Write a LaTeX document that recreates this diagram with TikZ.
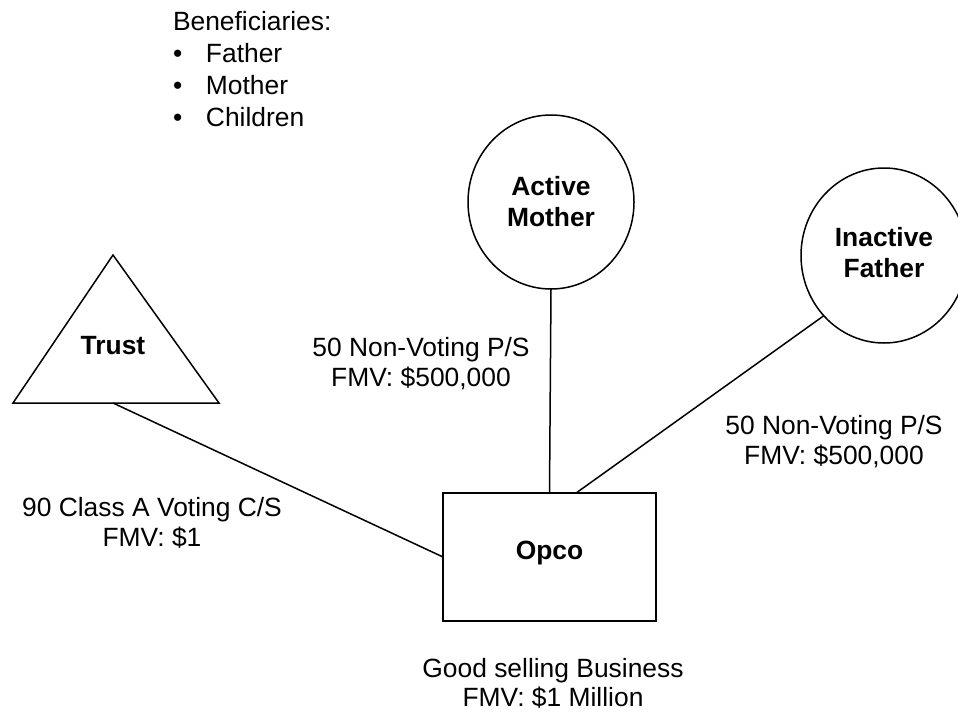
\documentclass[tikz,border=0pt]{standalone}
\usepackage{fontspec}
\setmainfont{Liberation Sans}
\usetikzlibrary{shapes.geometric,calc}
\begin{document}
\begin{tikzpicture}[x=1pt,y=-1pt,
  every node/.style={inner sep=0pt, outer sep=0pt},
  plain/.style={font=\fontsize{26.4}{29.5}\selectfont, align=center},
  entity/.style={draw, line width=1.5pt, font=\fontsize{26.4}{31}\selectfont\bfseries, align=center},
  link/.style={line width=1.5pt}]
\clip (0,0) rectangle (958,712);
\fill[white] (0,0) rectangle (958,712);

% Trust: triangle outline with its caption inside
\coordinate (trusttop) at (113,255);
\coordinate (trustleft) at (13,403);
\coordinate (trustright) at (219,403);
\coordinate (trustbase) at (113,403);
\draw[link, line join=miter] (trusttop) -- (trustright) -- (trustleft) -- cycle;
\node[font=\fontsize{26.4}{31}\selectfont\bfseries] (trust) at (113,346) {Trust};

% Shareholders and the company
\node[entity, ellipse, minimum width=166pt, minimum height=174pt] (mother) at (551,202) {Active\\Mother};
\node[entity, ellipse, minimum width=166pt, minimum height=175pt, text depth=6pt] (father) at (884,255.5) {Inactive\\Father};
\node[entity, rectangle, minimum width=213pt, minimum height=128pt, text height=19pt, text depth=14pt] (opco) at (549.5,557) {Opco};

% Ownership links
\draw[link] (trustbase) -- (opco.west);
\draw[link] (mother.south) -- (opco.north);
\draw[link] (father.225.7) -- ($(opco.north west)!0.625!(opco.north east)$);

% Share descriptions
\node[plain] (motherShares) at (421,363.5) {50 Non-Voting P/S\\FMV: \$500,000};
\node[plain] (fatherShares) at (834,441.5) {50 Non-Voting P/S\\FMV: \$500,000};
\node[plain] (trustShares) at (152,522.8) {90 Class A Voting C/S\\FMV: \$1};
\node[plain] (opcoValue) at (553,683.3) {Good selling Business\\FMV: \$1 Million};

% Trust beneficiaries
\node[anchor=north west, align=left, font=\fontsize{26.4}{32}\selectfont] (beneficiaries) at (173,11)
  {Beneficiaries:\\\makebox[33pt][l]{•}Father\\\makebox[33pt][l]{•}Mother\\\makebox[33pt][l]{•}Children};
\end{tikzpicture}
\end{document}
